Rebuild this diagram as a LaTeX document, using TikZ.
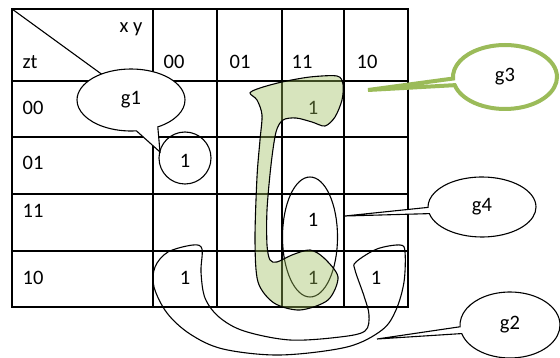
\documentclass[tikz,border=0pt]{standalone}
\usepackage{fontspec}
\setmainfont{Carlito}
\usetikzlibrary{shapes.geometric,shapes.callouts}
\definecolor{gthree}{HTML}{9BBB59}

\begin{document}
\begin{tikzpicture}[
    x=1pt, y=-1pt,
    font=\fontsize{20.5}{24}\selectfont,
    grid/.style={draw=black, line width=1.4pt},
    loopline/.style={draw=black, line width=1.1pt},
    onebox/.style={inner sep=0pt},
    bubble/.style={ellipse callout, draw=black, fill=white, line width=1.1pt, minimum width=108pt, minimum height=62pt, inner sep=0pt, callout pointer arc=12},
]
\useasboundingbox (0,0) rectangle (560,358);

\draw[grid] (12,9) rectangle (408,307);
\foreach \x in {153,217,282,344} \draw[grid] (\x,9) -- (\x,307);
\foreach \y in {81,137,194,251} \draw[grid] (12,\y) -- (408,\y);
\draw[line width=1.1pt] (12,9) -- (111,81);

\node (xy) at (131,29) {x y};
\node (zt) at (30,62) {zt};
\node (c00) at (174,62) {00};
\node (c01) at (240,62) {01};
\node (c11) at (302,62) {11};
\node (c10) at (367,62) {10};
\node (r00) at (33,108) {00};
\node (r01) at (33,163) {01};
\node (r11) at (33,211) {11};
\node (r10) at (33,278) {10};

\node[onebox] (m0011) at (313,108) {1};
\node[onebox] (m0100) at (185,161) {1};
\node[onebox] (m1111) at (313,220) {1};
\node[onebox] (m1011) at (313,278) {1};
\node[onebox] (m1000) at (185,278) {1};
\node[onebox] (m1010) at (376,278) {1};

\node[circle, loopline, minimum size=52pt] (g1loop) at (185,158) {};
\node[ellipse, loopline, minimum width=55pt, minimum height=120pt] (g4loop) at (310,237) {};

% g2
\draw[loopline] plot[smooth cycle, tension=0.55] coordinates {
  (193,245) (202,249) (201,272) (205,298) (219,317) (244,331) (290,340)
  (340,337) (365,331) (369,315) (364,296) (355,270) (356,262) (377,249)
  (400,245) (405,252) (404,282) (396,310) (382,330) (347,347) (280,355)
  (223,349) (190,334) (167,313) (154,287) (155,267) (168,252)};

% g3
\draw[loopline, fill=gthree, fill opacity=0.4] plot[smooth cycle, tension=0.5] coordinates {
  (250,93) (260,88) (282,82) (310,77) (337,76) (343,84) (342,100) (335,117)
  (325,126) (312,122) (296,118) (283,120) (276,132) (271,165) (267,210)
  (267,245) (270,260) (277,262) (292,255) (310,250) (324,258) (338,277)
  (328,300) (300,310) (274,303) (258,282) (255,240) (257,177) (260,140)
  (262,115) (257,100)};

\coordinate (g1tip) at (160,152);
\coordinate (g3tip) at (368,90);
\coordinate (g4tip) at (345,216);
\coordinate (g2tip) at (377,339);

\node[bubble, callout absolute pointer={(g1tip)}, callout pointer arc=24] (g1) at (131,100) {g1\hspace{20pt}};
\node[bubble, draw=gthree, line width=4pt, minimum width=104pt, minimum height=64pt, callout absolute pointer={(g3tip)}] (g3) at (505,77) {g3\hspace{20pt}};
\node[bubble, minimum height=60pt, callout absolute pointer={(g4tip)}] (g4) at (482,207) {g4\hspace{22pt}};
\node[bubble, minimum width=100pt, minimum height=66pt, callout absolute pointer={(g2tip)}] (g2) at (510,325) {g2\hspace{16pt}};
\end{tikzpicture}
\end{document}
